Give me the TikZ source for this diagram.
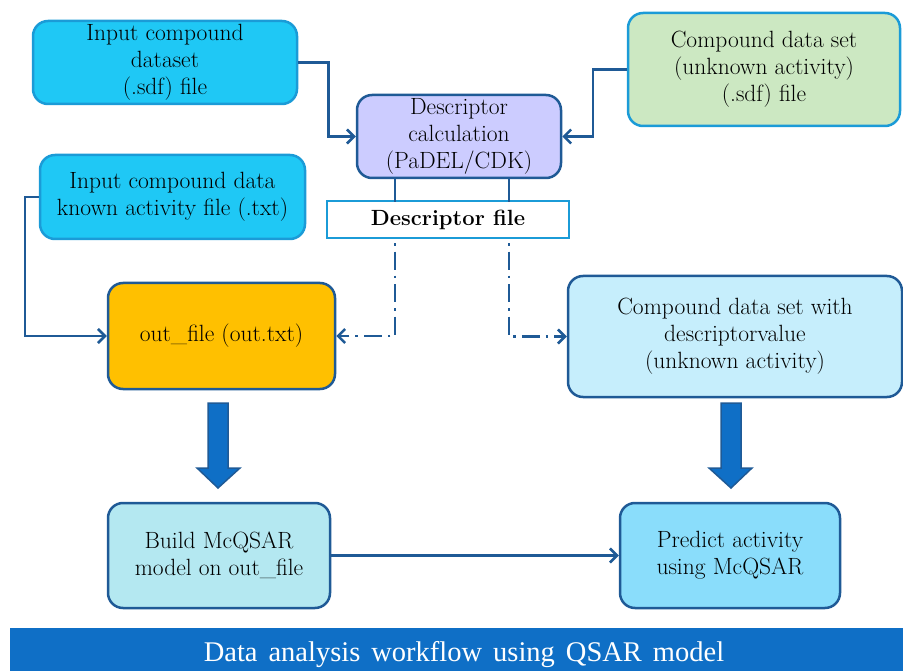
\documentclass[tikz,border=0pt]{standalone}
\usepackage{fontspec}
\newfontfamily\bannerfont{Liberation Serif}
\usetikzlibrary{arrows.meta,calc}
\definecolor{lineblue}{HTML}{1F5A96}
\definecolor{lightborder}{HTML}{1B9BD7}
\definecolor{cyanfill}{HTML}{1FC8F5}
\definecolor{greenfill}{HTML}{CCE8C2}
\definecolor{lavfill}{HTML}{CCCCFF}
\definecolor{yellowfill}{HTML}{FFC000}
\definecolor{cdvfill}{HTML}{C6EEFC}
\definecolor{buildfill}{HTML}{B4E8F1}
\definecolor{predfill}{HTML}{8ADDFB}
\definecolor{bigblue}{HTML}{0F6FC6}
\tikzset{
  box/.style={rounded corners=15pt, line width=2.5pt, align=center, inner sep=2pt,
    font=\fontsize{23.5}{27}\selectfont},
  conn/.style={draw=lineblue, line width=2.5pt, -{Straight Barb[length=7pt,width=14pt,line width=2.5pt]}},
  plain/.style={draw=lineblue, line width=2.5pt},
  dd/.style={draw=lineblue, line width=2.5pt, dash pattern=on 2.5pt off 6pt on 18pt off 6pt},
  blockarrow/.style={fill=bigblue, draw=lineblue, line width=1.5pt}
}
\begin{document}
\begin{tikzpicture}[x=1pt,y=-1pt]
\useasboundingbox (0,0) rectangle (903,671);
% boxes
\node[box, draw=lightborder, fill=cyanfill, minimum width=264pt, minimum height=83pt] (in1) at (165,62.5)
  {Input compound\\dataset\\(.sdf) file};
\node[box, draw=lightborder, fill=greenfill, minimum width=272pt, minimum height=113pt] (unk) at (764,69.5)
  {Compound data set\\(unknown activity)\\(.sdf) file};
\node[box, draw=lineblue, fill=lavfill, minimum width=204pt, minimum height=83pt] (desc) at (459,136.5)
  {Descriptor\\calculation\\(PaDEL/CDK)};
\node[box, draw=lightborder, fill=cyanfill, minimum width=265pt, minimum height=84pt] (known) at (172.5,197)
  {Input compound data\\known activity file (.txt)};
\node[draw=lightborder, fill=white, line width=2.5pt, minimum width=242pt, minimum height=37pt, inner sep=1pt,
  font=\fontsize{22}{26}\selectfont\bfseries] (dfile) at (448,219.5) {Descriptor file};
\node[box, draw=lineblue, fill=yellowfill, minimum width=227pt, minimum height=106pt] (outf) at (221.5,336)
  {out\_file (out.txt)};
\node[box, draw=lineblue, fill=cdvfill, minimum width=334pt, minimum height=121pt] (cdv) at (735,336.5)
  {Compound data set with\\descriptorvalue\\(unknown activity)};
\node[box, draw=lineblue, fill=buildfill, minimum width=222pt, minimum height=105pt] (build) at (219,555.5)
  {Build McQSAR\\model on out\_file};
\node[box, draw=lineblue, fill=predfill, minimum width=220pt, minimum height=105pt] (pred) at (730,555.5)
  {Predict activity\\using McQSAR};
% banner
\fill[bigblue] (10,628) rectangle (903,671);
\node[text=white, font=\bannerfont\fontsize{28.5}{30}\selectfont] (banner) at (464,655)
  {\spaceskip=11pt\relax Data analysis workflow using QSAR model};
% connectors
\draw[conn] (in1.east) -- ++(30,0) |- (desc.west);
\draw[conn] (unk.west) -- ++(-34,0) |- (desc.east);
\draw[plain] ($(desc.south)+(-64,0)$) -- ($(desc.south)+(-64,23)$);
\draw[plain] ($(desc.south)+(50,0)$) -- ($(desc.south)+(50,23)$);
\draw[dd] ($(dfile.south)+(-53,4)$) |- ($(outf.east)+(8,0)$);
\draw[conn] ($(outf.east)+(8,0)$) -- (outf.east);
\draw[dd] ($(dfile.south)+(61,4)$) |- ($(cdv.west)+(-8,0)$);
\draw[conn] ($(cdv.west)+(-8,0)$) -- (cdv.west);
\draw[conn] (known.west) -- ++(-14,0) |- (outf.west);
\draw[conn] (build.east) -- (pred.west);
% block arrows
\draw[blockarrow] (208,403) -- (228,403) -- (228,468) -- (240,468) -- (218,488) -- (197,468) -- (208,468) -- cycle;
\draw[blockarrow] (721,403) -- (741,403) -- (741,468) -- (752,468) -- (731,488) -- (709,468) -- (721,468) -- cycle;
\end{tikzpicture}
\end{document}
